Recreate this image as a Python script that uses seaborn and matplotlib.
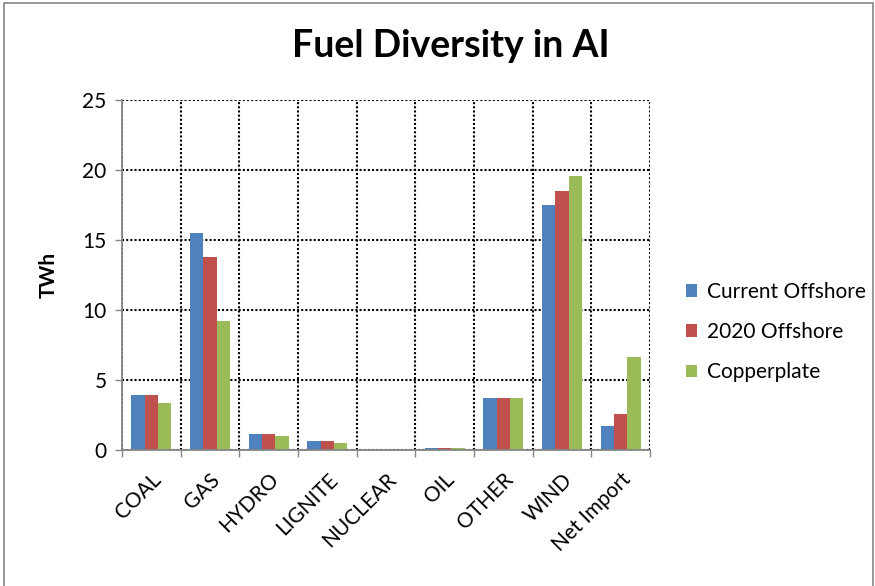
import matplotlib
matplotlib.use("Agg")
import matplotlib.pyplot as plt
from matplotlib.lines import Line2D
from matplotlib.ticker import FixedLocator
import numpy as np
import pandas as pd
import seaborn as sns

categories = ["COAL", "GAS", "HYDRO", "LIGNITE", "NUCLEAR", "OIL", "OTHER", "WIND", "Net Import"]
current_offshore = [3.95, 15.5, 1.15, 0.65, 0.0, 0.15, 3.7, 17.5, 1.75]
offshore_2020 = [3.95, 13.8, 1.15, 0.65, 0.0, 0.15, 3.7, 18.5, 2.6]
copperplate = [3.35, 9.25, 1.0, 0.5, 0.0, 0.15, 3.7, 19.6, 6.65]
series_names = ["Current Offshore", "2020 Offshore", "Copperplate"]
colors = ["#4F81BD", "#C0504D", "#9BBB59"]
y_ticks = [0, 5, 10, 15, 20, 25]

rows = []
for name, vals in zip(series_names, [current_offshore, offshore_2020, copperplate]):
    for cat, v in zip(categories, vals):
        rows.append({"Fuel": cat, "Scenario": name, "TWh": v})
df = pd.DataFrame(rows)

sns.set_theme(style="white")
plt.rcParams["font.family"] = ["Lato", "DejaVu Sans"]
plt.rcParams["text.color"] = "black"
plt.rcParams["axes.labelcolor"] = "black"
plt.rcParams["xtick.color"] = "black"
plt.rcParams["ytick.color"] = "black"

fig = plt.figure(figsize=(8.75, 5.86), dpi=100)
ax = fig.add_axes([122 / 875, 1 - 450 / 586, 528 / 875, 350 / 586])

sns.barplot(data=df, x="Fuel", y="TWh", hue="Scenario", order=categories,
            hue_order=series_names, palette=colors, saturation=1,
            width=0.68, linewidth=0, ax=ax, legend=True)

n = len(categories)
ax.set_xlim(-0.5, n - 0.5)
ax.set_ylim(0, 25)
ax.set_yticks(y_ticks)
ax.set_yticklabels([str(t) for t in y_ticks], fontsize=15)

# category boundaries carry the tick marks and vertical grid lines
ax.xaxis.set_minor_locator(FixedLocator(np.arange(-0.5, n, 1.0)))
ax.tick_params(axis="x", which="major", length=0, pad=14)
ax.tick_params(axis="x", which="minor", length=5, width=1, color="#868686",
               direction="out", bottom=True)
ax.tick_params(axis="y", which="major", length=5, width=1, color="#868686",
               labelcolor="black", direction="out", left=True, pad=6)
ax.set_xticks(range(n))
ax.set_xticklabels(categories, rotation=45, ha="right", rotation_mode="anchor",
                   fontsize=15, color="black")

ax.grid(False)
dots = (0, (1, 1))
ax.xaxis.grid(True, which="minor", linestyle=dots, color="black", linewidth=1.5)
ax.yaxis.grid(True, which="major", linestyle=dots, color="black", linewidth=1.5)
ax.set_axisbelow(True)

for side in ["top", "right"]:
    ax.spines[side].set_visible(False)
for side in ["left", "bottom"]:
    ax.spines[side].set_color("#868686")
    ax.spines[side].set_linewidth(1.3)
    ax.spines[side].set_zorder(3)

ax.set_xlabel("")
ax.set_ylabel("TWh", fontsize=15, fontweight="bold", labelpad=17, color="black")

fig.text(0.515, 0.922, "Fuel Diversity in AI", ha="center", va="center",
         fontsize=27, fontweight="bold", color="black")

handles, labels = ax.get_legend_handles_labels()
ax.legend(handles, labels, loc="center left", bbox_to_anchor=(1.068, 0.337),
          frameon=False, fontsize=15, handlelength=0.55, handleheight=0.55,
          handletextpad=0.45, labelspacing=0.98, borderpad=0, borderaxespad=0)

# chart outline
fig.add_artist(Line2D([4 / 875, 4 / 875, 873 / 875, 873 / 875],
                      [0, 583 / 586, 583 / 586, 0], color="#868686",
                      linewidth=1.2, transform=fig.transFigure))

fig.savefig("out.png", dpi=100)
